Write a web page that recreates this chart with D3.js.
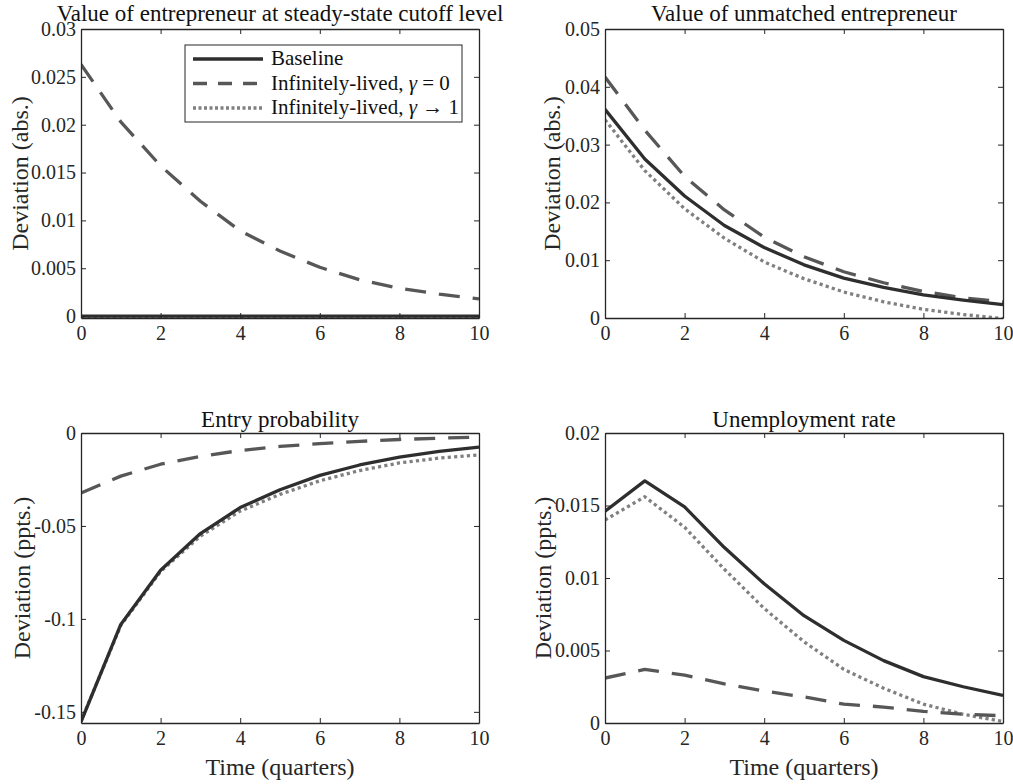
<!DOCTYPE html>
<html>
<head>
<meta charset="utf-8">
<script src="https://cdn.jsdelivr.net/npm/d3@7"></script>
<style>
  body { margin: 0; background: #fff; }
  svg text { font-family: "Liberation Serif", "Times New Roman", Times, "DejaVu Serif", serif; }
</style>
</head>
<body>
<div id="chart"></div>
<script>
// quarters 0..10
var quarters = [0, 1, 2, 3, 4, 5, 6, 7, 8, 9, 10];

// panel 1: value of entrepreneur at steady-state cutoff level
var cutoffBaseline = [0, 0, 0, 0, 0, 0, 0, 0, 0, 0, 0];
var cutoffGamma0   = [0.0263, 0.0203, 0.0157, 0.0120, 0.0089, 0.0068, 0.0051, 0.0038, 0.0029, 0.0023, 0.0018];
var cutoffGamma1   = [-0.00015, -0.00015, -0.00015, -0.00015, -0.00015, -0.00015, -0.00015, -0.00015, -0.00015, -0.00015, -0.00015];

// panel 2: value of unmatched entrepreneur
var unmatchedBaseline = [0.0361, 0.0275, 0.0211, 0.0160, 0.0122, 0.0092, 0.0069, 0.0053, 0.0040, 0.0031, 0.0023];
var unmatchedGamma0   = [0.0417, 0.0325, 0.0245, 0.0187, 0.0140, 0.0106, 0.0080, 0.0061, 0.0046, 0.0035, 0.0028];
var unmatchedGamma1   = [0.0343, 0.0255, 0.0189, 0.0138, 0.0097, 0.0068, 0.0045, 0.0028, 0.0015, 0.0006, -0.0001];

// panel 3: entry probability
var entryBaseline = [-0.1554, -0.1030, -0.0738, -0.0541, -0.0401, -0.0305, -0.0228, -0.0172, -0.0130, -0.0099, -0.0076];
var entryGamma0   = [-0.0323, -0.0232, -0.0168, -0.0126, -0.0094, -0.0072, -0.0057, -0.0045, -0.0035, -0.0028, -0.0022];
var entryGamma1   = [-0.1550, -0.1035, -0.0745, -0.0555, -0.0420, -0.0330, -0.0257, -0.0202, -0.0161, -0.0135, -0.0118];

// panel 4: unemployment rate
var unempBaseline = [0.0146, 0.0167, 0.0149, 0.0121, 0.0096, 0.0074, 0.0057, 0.0043, 0.0032, 0.0025, 0.0019];
var unempGamma0   = [0.0031, 0.0037, 0.0033, 0.0027, 0.0022, 0.0018, 0.0013, 0.0011, 0.0008, 0.0006, 0.0005];
var unempGamma1   = [0.0140, 0.0156, 0.0135, 0.0106, 0.0079, 0.0056, 0.0037, 0.0024, 0.0013, 0.0006, 0.0001];

var xTicks = [0, 2, 4, 6, 8, 10];

var seriesNames = ["Baseline", "Infinitely-lived, γ = 0", "Infinitely-lived, γ → 1"];
var seriesStyle = [
  {color: "#2e2e2e", dash: null},
  {color: "#575757", dash: "21,13"},
  {color: "#808080", dash: "3.2,3.2"}
];

var panels = [
  {title: "Value of entrepreneur at steady-state cutoff level", ylabel: "Deviation (abs.)", xlabel: null,
   domain: [-0.0002, 0.03], ticks: [0, 0.005, 0.01, 0.015, 0.02, 0.025, 0.03],
   tickLabels: ["0", "0.005", "0.01", "0.015", "0.02", "0.025", "0.03"],
   series: [cutoffBaseline, cutoffGamma0, cutoffGamma1],
   left: 81, right: 479, top: 29, bottom: 318, titleY: 21, ylabelX: 20, legend: true},
  {title: "Value of unmatched entrepreneur", ylabel: "Deviation (abs.)", xlabel: null,
   domain: [0, 0.05], ticks: [0, 0.01, 0.02, 0.03, 0.04, 0.05],
   tickLabels: ["0", "0.01", "0.02", "0.03", "0.04", "0.05"],
   series: [unmatchedBaseline, unmatchedGamma0, unmatchedGamma1],
   left: 605, right: 1003, top: 29, bottom: 318, titleY: 21, ylabelX: 552},
  {title: "Entry probability", ylabel: "Deviation (ppts.)", xlabel: "Time (quarters)",
   domain: [-0.156, 0], ticks: [-0.15, -0.1, -0.05, 0],
   tickLabels: ["-0.15", "-0.1", "-0.05", "0"],
   series: [entryBaseline, entryGamma0, entryGamma1],
   left: 81, right: 479, top: 433, bottom: 723, titleY: 427, ylabelX: 22},
  {title: "Unemployment rate", ylabel: "Deviation (ppts.)", xlabel: "Time (quarters)",
   domain: [0, 0.02], ticks: [0, 0.005, 0.01, 0.015, 0.02],
   tickLabels: ["0", "0.005", "0.01", "0.015", "0.02"],
   series: [unempBaseline, unempGamma0, unempGamma1],
   left: 605, right: 1003, top: 433, bottom: 723, titleY: 427, ylabelX: 543}
];

var serif = '"Liberation Serif", "Times New Roman", Times, "DejaVu Serif", serif';

var svg = d3.select("#chart")
  .append("svg")
    .attr("width", 1013)
    .attr("height", 784);

var axisColor = "#262626";

panels.forEach(function(p, i) {
  var x = d3.scaleLinear().domain([0, 10]).range([p.left, p.right]);
  var y = d3.scaleLinear().domain(p.domain).range([p.bottom, p.top]);
  var g = svg.append("g");

  g.append("clipPath").attr("id", "clip" + i)
    .append("rect")
      .attr("x", p.left).attr("y", p.top)
      .attr("width", p.right - p.left).attr("height", p.bottom - p.top);

  // lines (drawn first, box on top)
  var line = d3.line()
    .x(function(d, k) { return x(quarters[k]) })
    .y(function(d) { return y(d) });

  var order = [2, 1, 0];
  order.forEach(function(s) {
    g.append("path")
      .datum(p.series[s])
      .attr("clip-path", "url(#clip" + i + ")")
      .attr("d", line)
      .attr("fill", "none")
      .attr("stroke", seriesStyle[s].color)
      .attr("stroke-width", 3.3)
      .attr("stroke-dasharray", seriesStyle[s].dash)
      .attr("stroke-linejoin", "round");
  });

  var yFmt = function(d) { return p.tickLabels[p.ticks.indexOf(d)] };

  var bottomAxis = g.append("g")
    .attr("transform", "translate(0," + p.bottom + ")")
    .call(d3.axisBottom(x).tickValues(xTicks).tickSize(-5).tickSizeOuter(0).tickPadding(8).tickFormat(d3.format("d")));
  var topAxis = g.append("g")
    .attr("transform", "translate(0," + p.top + ")")
    .call(d3.axisTop(x).tickValues(xTicks).tickSize(-5).tickSizeOuter(0).tickFormat(""));
  var leftAxis = g.append("g")
    .attr("transform", "translate(" + p.left + ",0)")
    .call(d3.axisLeft(y).tickValues(p.ticks).tickSize(-5).tickSizeOuter(0).tickPadding(5).tickFormat(yFmt));
  var rightAxis = g.append("g")
    .attr("transform", "translate(" + p.right + ",0)")
    .call(d3.axisRight(y).tickValues(p.ticks).tickSize(-5).tickSizeOuter(0).tickFormat(""));

  [bottomAxis, topAxis, leftAxis, rightAxis].forEach(function(a) {
    a.attr("font-family", serif);
    a.selectAll(".domain").attr("stroke", axisColor).attr("stroke-width", 1.3);
    a.selectAll(".tick line").attr("stroke", axisColor);
    a.selectAll(".tick text")
      .attr("fill", axisColor)
      .style("font-family", serif)
      .style("font-size", "20px");
  });

  g.append("text")
    .attr("x", (p.left + p.right) / 2)
    .attr("y", p.titleY)
    .attr("text-anchor", "middle")
    .style("font-family", serif)
    .style("font-size", "23px")
    .attr("fill", "#111")
    .text(p.title);

  g.append("text")
    .attr("transform", "translate(" + p.ylabelX + "," + ((p.top + p.bottom) / 2) + ") rotate(-90)")
    .attr("text-anchor", "middle")
    .attr("dy", "0.35em")
    .style("font-family", serif)
    .style("font-size", "24px")
    .attr("fill", axisColor)
    .text(p.ylabel);

  if (p.xlabel) {
    g.append("text")
      .attr("x", (p.left + p.right) / 2)
      .attr("y", 775)
      .attr("text-anchor", "middle")
      .style("font-family", serif)
      .style("font-size", "24px")
      .attr("fill", axisColor)
      .text(p.xlabel);
  }

  if (p.legend) {
    var lg = g.append("g");
    lg.append("rect")
      .attr("x", 185).attr("y", 45)
      .attr("width", 277).attr("height", 77)
      .attr("fill", "#fff")
      .attr("stroke", axisColor)
      .attr("stroke-width", 1);
    var legendDash = [null, "14,11", "3,2.5"];
    seriesNames.forEach(function(name, s) {
      var ly = 59 + s * 24.5;
      lg.append("line")
        .attr("x1", 193).attr("x2", 263)
        .attr("y1", ly).attr("y2", ly)
        .attr("stroke", seriesStyle[s].color)
        .attr("stroke-width", 3.3)
        .attr("stroke-dasharray", legendDash[s]);
      var t = lg.append("text")
        .attr("x", 271).attr("y", ly + 6)
        .style("font-family", serif)
        .style("font-size", "21px")
        .attr("fill", "#111");
      if (s == 0) {
        t.text(name);
      } else {
        t.append("tspan").text("Infinitely-lived, ");
        t.append("tspan").style("font-style", "italic").text("γ");
        t.append("tspan").text(s == 1 ? " = 0" : " → 1");
      }
    });
  }
});
</script>
</body>
</html>
